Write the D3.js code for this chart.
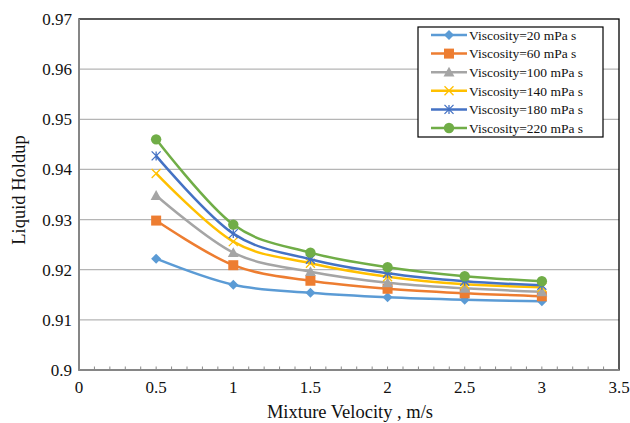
<!DOCTYPE html>
<html>
<head>
<meta charset="utf-8">
<script src="https://cdn.jsdelivr.net/npm/d3@7"></script>
<style>
  html, body { margin: 0; padding: 0; background: #fff; }
  svg { display: block; }
  svg text { font-family: "Liberation Serif", "Times New Roman", Times, serif; }
</style>
</head>
<body>
<svg id="chart" width="630" height="423"></svg>
<script>
// ---- data ----
const velocities = [0.5, 1, 1.5, 2, 2.5, 3];
const seriesNames = ["Viscosity=20 mPa s", "Viscosity=60 mPa s", "Viscosity=100 mPa s",
                     "Viscosity=140 mPa s", "Viscosity=180 mPa s", "Viscosity=220 mPa s"];
const holdup20  = [0.9222, 0.9170, 0.9154, 0.9145, 0.9140, 0.9137];
const holdup60  = [0.9298, 0.9209, 0.9178, 0.9162, 0.9153, 0.9147];
const holdup100 = [0.9348, 0.9234, 0.9196, 0.9174, 0.9163, 0.9156];
const holdup140 = [0.9392, 0.9256, 0.9213, 0.9186, 0.9171, 0.9165];
const holdup180 = [0.9427, 0.9272, 0.9221, 0.9193, 0.9177, 0.9169];
const holdup220 = [0.9460, 0.9290, 0.9234, 0.9205, 0.9187, 0.9177];
const xTicks = [0, 0.5, 1, 1.5, 2, 2.5, 3, 3.5];
const yTicks = [0.9, 0.91, 0.92, 0.93, 0.94, 0.95, 0.96, 0.97];

const colors = ["#5B9BD5", "#ED7D31", "#A5A5A5", "#FFC000", "#4472C4", "#70AD47"];
const markers = ["diamond", "square", "triangle", "x", "star", "circle"];
const allValues = [holdup20, holdup60, holdup100, holdup140, holdup180, holdup220];

const FONT = "Liberation Serif, Times New Roman, serif";
const svg = d3.select("#chart");
const m = { left: 79, top: 19, right: 619, bottom: 370 };

const x = d3.scaleLinear().domain([0, 3.5]).range([m.left, m.right]);
const y = d3.scaleLinear().domain([0.9, 0.97]).range([m.bottom, m.top]);

// gridlines
svg.append("g").selectAll("line").data(yTicks.slice(1, -1)).join("line")
  .attr("x1", m.left).attr("x2", m.right)
  .attr("y1", d => y(d)).attr("y2", d => y(d))
  .attr("stroke", "#b5b5b5").attr("stroke-width", 1.3);

// plot border (top/right)
svg.append("rect").attr("x", m.left).attr("y", m.top)
  .attr("width", m.right - m.left).attr("height", m.bottom - m.top)
  .attr("fill", "none").attr("stroke", "#000").attr("stroke-width", 1.3);

// minor ticks on x axis
const minor = d3.range(1, 35).map(i => i / 10);
svg.append("g").selectAll("line").data(minor).join("line")
  .attr("x1", d => x(d)).attr("x2", d => x(d))
  .attr("y1", m.bottom).attr("y2", m.bottom - 3.5)
  .attr("stroke", "#8a8a8a").attr("stroke-width", 1);

// axes lines
svg.append("line").attr("x1", m.left).attr("x2", m.left).attr("y1", m.top).attr("y2", m.bottom)
  .attr("stroke", "#868686").attr("stroke-width", 2);
svg.append("line").attr("x1", m.left).attr("x2", m.right).attr("y1", m.bottom).attr("y2", m.bottom)
  .attr("stroke", "#868686").attr("stroke-width", 2);

// tick labels
svg.append("g").selectAll("text").data(yTicks).join("text")
  .attr("x", 72).attr("y", d => y(d)).attr("dy", "0.35em")
  .attr("text-anchor", "end").attr("font-size", 17).attr("font-family", FONT).attr("fill", "#111")
  .text(d => String(+d.toFixed(2)));
svg.append("g").selectAll("text").data(xTicks).join("text")
  .attr("x", d => x(d)).attr("y", 393)
  .attr("text-anchor", "middle").attr("font-size", 17).attr("font-family", FONT).attr("fill", "#111")
  .text(d => d);

// axis titles
svg.append("text").attr("x", 350).attr("y", 418).attr("text-anchor", "middle")
  .attr("font-size", 18.5).attr("font-family", FONT).attr("fill", "#111").text("Mixture Velocity , m/s");
svg.append("text").attr("transform", "translate(25,190) rotate(-90)")
  .attr("text-anchor", "middle").attr("font-size", 18.5).attr("font-family", FONT).attr("fill", "#111").text("Liquid Holdup");

// marker drawing
function drawMarker(g, type, color, cx, cy) {
  if (type === "diamond") {
    const r = 5;
    g.append("path").attr("d", `M${cx},${cy - r}L${cx + r},${cy}L${cx},${cy + r}L${cx - r},${cy}Z`).attr("fill", color);
  } else if (type === "square") {
    const r = 5;
    g.append("rect").attr("x", cx - r).attr("y", cy - r).attr("width", 2 * r).attr("height", 2 * r).attr("fill", color);
  } else if (type === "triangle") {
    const r = 5.5;
    g.append("path").attr("d", `M${cx},${cy - r}L${cx + r},${cy + r * 0.8}L${cx - r},${cy + r * 0.8}Z`).attr("fill", color);
  } else if (type === "x") {
    const r = 4.5;
    g.append("path").attr("d", `M${cx - r},${cy - r}L${cx + r},${cy + r}M${cx - r},${cy + r}L${cx + r},${cy - r}`)
      .attr("stroke", color).attr("stroke-width", 1.3).attr("fill", "none");
  } else if (type === "star") {
    const r = 4.5;
    g.append("path").attr("d", `M${cx - r},${cy - r}L${cx + r},${cy + r}M${cx - r},${cy + r}L${cx + r},${cy - r}M${cx},${cy - r}L${cx},${cy + r}`)
      .attr("stroke", color).attr("stroke-width", 1.3).attr("fill", "none");
  } else if (type === "circle") {
    g.append("circle").attr("cx", cx).attr("cy", cy).attr("r", 5.2).attr("fill", color);
  }
}

const line = d3.line().x(d => x(d[0])).y(d => y(d[1])).curve(d3.curveCatmullRom.alpha(0));

allValues.forEach((vals, i) => {
  const pts = velocities.map((v, j) => [v, vals[j]]);
  const g = svg.append("g");
  g.append("path").attr("d", line(pts)).attr("fill", "none")
    .attr("stroke", colors[i]).attr("stroke-width", 2.5);
  pts.forEach(p => drawMarker(g, markers[i], colors[i], x(p[0]), y(p[1])));
});

// legend
const lg = svg.append("g");
lg.append("rect").attr("x", 418).attr("y", 27).attr("width", 185).attr("height", 110)
  .attr("fill", "#fff").attr("stroke", "#000").attr("stroke-width", 1.2);
seriesNames.forEach((name, i) => {
  const ly = 35 + i * 18.6;
  lg.append("line").attr("x1", 431).attr("x2", 467).attr("y1", ly).attr("y2", ly)
    .attr("stroke", colors[i]).attr("stroke-width", 2.5);
  drawMarker(lg, markers[i], colors[i], 449, ly);
  lg.append("text").attr("x", 469).attr("y", ly).attr("dy", "0.35em")
    .attr("font-size", 13.5).attr("font-family", FONT).attr("fill", "#111").text(name);
});
</script>
</body>
</html>
